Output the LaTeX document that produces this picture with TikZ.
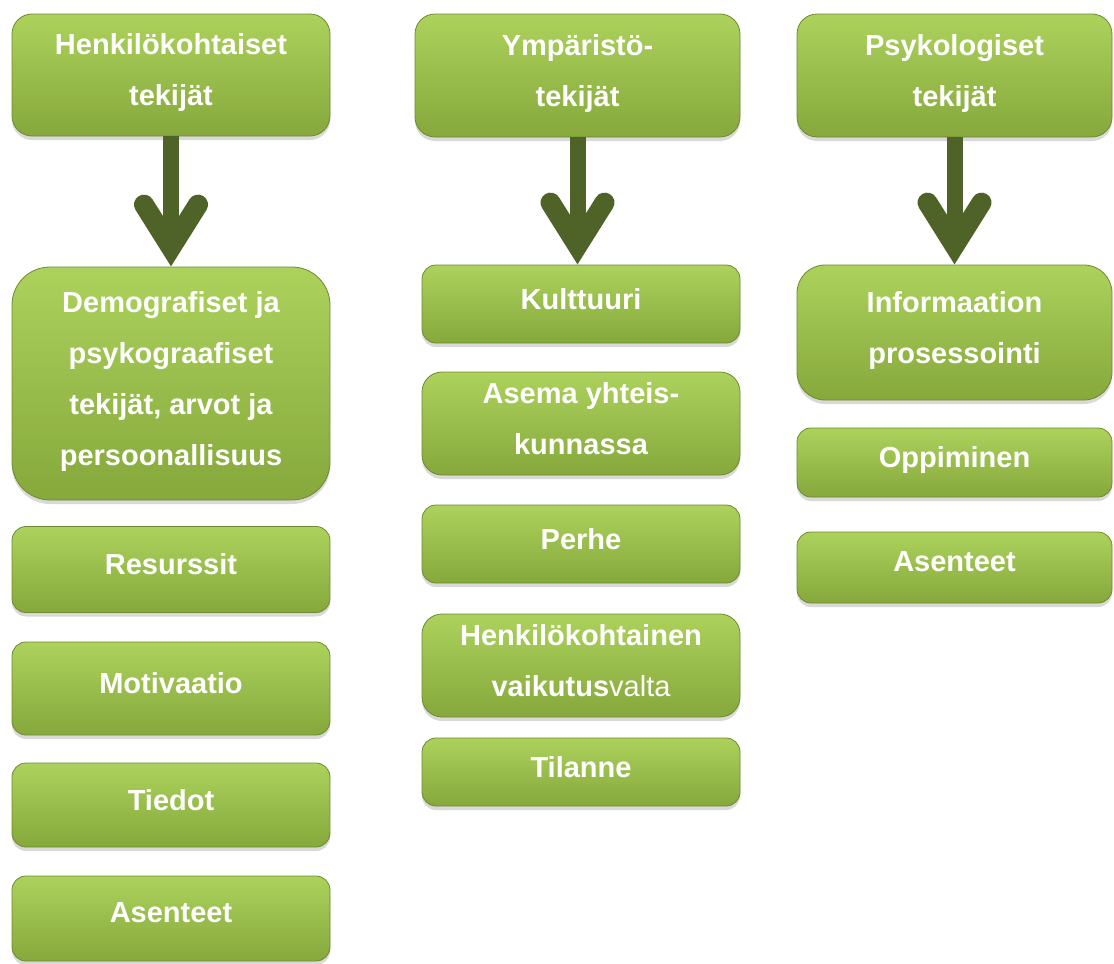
\documentclass[tikz,border=0pt]{standalone}
\usepackage{fontspec}
\setmainfont{Liberation Sans}
\usetikzlibrary{shadows,calc}
\tikzset{>=latex}
\definecolor{boxtop}{RGB}{172,210,92}
\definecolor{boxbot}{RGB}{134,168,60}
\definecolor{boxedge}{RGB}{108,138,48}
\definecolor{arrowgreen}{RGB}{79,98,40}
\tikzset{
	box/.style={rectangle, rounded corners=14pt, draw=boxedge, line width=0.8pt,
		top color=boxtop, bottom color=boxbot, text=white,
		font=\fontsize{29}{51}\selectfont\bfseries, align=center, inner sep=0pt,
		minimum width=318pt, text depth=11pt,
		drop shadow={shadow xshift=0pt, shadow yshift=-4pt, opacity=0.3}},
	shaft/.style={draw=arrowgreen, line width=16pt},
	chevron/.style={draw=arrowgreen, line width=20pt, line cap=round, line join=miter}
}

\begin{document}
\begin{tikzpicture}[x=1pt,y=-1pt]
%	\draw[help lines, step=50] (0,0) grid (1114,964);
	\useasboundingbox (0,0) rectangle (1114,964);
	% column 1
	\node [box, minimum height=122pt, rounded corners=20pt] (henk) at (171,75) {Henkilökohtaiset\\tekijät};
	\node [box, minimum height=233pt, rounded corners=38pt] (demo) at (171,383.5) {Demografiset ja\\psykograafiset\\tekijät, arvot ja\\persoonallisuus};
	\node [box, minimum height=86pt] (resu) at (171,569.5) {Resurssit};
	\node [box, minimum height=93pt] (moti) at (171,688.5) {Motivaatio};
	\node [box, minimum height=84pt] (tied) at (171,805) {Tiedot};
	\node [box, minimum height=85pt] (asen1) at (171,918.5) {Asenteet};
	% column 2
	\node [box, minimum height=123pt, minimum width=325pt, rounded corners=20pt] (ymp) at (577.5,75.5) {Ympäristö-\\tekijät};
	\node [box, minimum height=78pt] (kult) at (581,304) {Kulttuuri};
	\node [box, minimum height=103pt, rounded corners=20pt] (asema) at (581,423.5) {Asema yhteis-\\kunnassa};
	\node [box, minimum height=78pt] (perhe) at (581,544) {Perhe};
	\node [box, minimum height=103pt, rounded corners=20pt] (vaik) at (581,665.5) {Henkilökohtainen\\vaikutus\mdseries valta};
	\node [box, minimum height=68pt] (tila) at (581,772) {Tilanne};
	% column 3
	\node [box, minimum height=123pt, minimum width=315pt, rounded corners=20pt] (psyk) at (954.5,75.5) {Psykologiset\\tekijät};
	\node [box, minimum height=135pt, minimum width=315pt, rounded corners=28pt] (info) at (954.5,332.5) {Informaation\\prosessointi};
	\node [box, minimum height=69pt, minimum width=315pt] (oppi) at (954.5,462.5) {Oppiminen};
	\node [box, minimum height=71pt, minimum width=315pt] (asen2) at (954.5,567.5) {Asenteet};
	% arrows
	\foreach \a/\b in {henk/demo, ymp/kult, psyk/info} {
		\coordinate (tip) at (\a.south |- \b.north);
		\draw [shaft] (\a.south) -- ($(tip)+(0,-20)$);
		\draw [chevron] ($(tip)+(-27,-62)$) -- ($(tip)+(0,-19)$) -- ($(tip)+(27,-62)$);
	}
\end{tikzpicture}
\end{document}
